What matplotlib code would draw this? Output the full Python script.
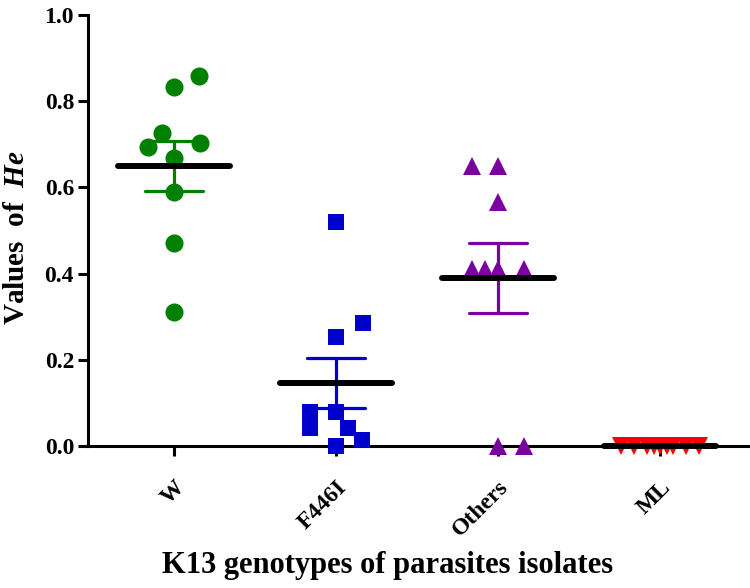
import numpy as np
import matplotlib
matplotlib.use("Agg")
import matplotlib.pyplot as plt

plt.rcParams['font.family'] = ['Liberation Serif', 'DejaVu Serif']
plt.rcParams['font.weight'] = 'bold'
plt.rcParams['mathtext.fontset'] = 'custom'
plt.rcParams['mathtext.rm'] = 'Liberation Serif:bold'
plt.rcParams['mathtext.it'] = 'Liberation Serif:bold:italic'

categories = ["W", "F446I", "Others", "ML"]

w_values = [0.858, 0.833, 0.726, 0.694, 0.703, 0.668, 0.589, 0.471, 0.311]
f446i_values = [0.520, 0.285, 0.253, 0.079, 0.042, 0.079, 0.042, 0.014, 0.0]
others_values = [0.65, 0.65, 0.566, 0.41, 0.41, 0.41, 0.41, 0.0, 0.0]
ml_values = [0.0, 0.0, 0.0, 0.0, 0.0, 0.0, 0.0, 0.0, 0.0]

# horizontal scatter offsets (category units), as laid out in the original
w_offsets = [0.155, 0.0, -0.075, -0.16, 0.16, 0.0, 0.0, 0.0, 0.0]
f446i_offsets = [0.0, 0.165, 0.0, -0.16, -0.16, 0.0, 0.075, 0.16, 0.0]
others_offsets = [-0.16, 0.0, 0.0, -0.16, -0.08, 0.0, 0.16, 0.0, 0.16]
ml_offsets = [-0.24, -0.16, -0.08, -0.04, 0.0, 0.04, 0.08, 0.16, 0.24]

yticks = [0.0, 0.2, 0.4, 0.6, 0.8, 1.0]

series = [
    (w_values, w_offsets, 'o', '#008000', 13),
    (f446i_values, f446i_offsets, 's', '#0000CC', 12),
    (others_values, others_offsets, '^', '#7B00A0', 13),
    (ml_values, ml_offsets, 'v', '#FF0000', 13),
]

fig = plt.figure(figsize=(7.5, 5.88), dpi=100)
ax = fig.add_axes([88/750, 1-446/588, 1-88/750, (446-15)/588])

mean_half = 0.345
cap_half = 0.18
for i, (vals, offs, mk, col, ms) in enumerate(series):
    v = np.array(vals)
    x = i + np.array(offs)
    ax.plot(x, v, linestyle='none', marker=mk, color=col, markersize=ms,
            markeredgewidth=0, zorder=3, clip_on=False)
    m = v.mean()
    sem = v.std(ddof=1) / np.sqrt(len(v))
    if sem > 0:
        ax.plot([i, i], [m - sem, m + sem], color=col, lw=2.3, zorder=4,
                solid_capstyle='round')
        for yy in (m - sem, m + sem):
            ax.plot([i - cap_half, i + cap_half], [yy, yy], color=col, lw=2.3,
                    zorder=4, solid_capstyle='round')
    ax.plot([i - mean_half, i + mean_half], [m, m], color='black', lw=4.3,
            zorder=5, solid_capstyle='round', clip_on=False)

ax.set_xlim(-0.53, 3.555)
ax.set_ylim(0, 1.0)
ax.set_yticks(yticks)
ax.set_yticklabels([f"{t:.1f}" for t in yticks], fontsize=17, fontweight='bold')
ax.set_xticks(range(len(categories)))
ax.set_xticklabels(categories, rotation=45, ha='right', rotation_mode='anchor',
                   fontsize=17, fontweight='bold')
for s in ('top', 'right'):
    ax.spines[s].set_visible(False)
for s in ('left', 'bottom'):
    ax.spines[s].set_linewidth(2.2)
ax.tick_params(axis='both', width=2.2, length=7, direction='out', pad=3)
ax.tick_params(axis='x', pad=15)

fig.text(17/750, 1-238/588, r"Values  of  $He$", rotation=90, ha='center',
         va='center', fontsize=21, fontweight='bold')
fig.text(388/750, 1-573/588, "K13 genotypes of parasites isolates",
         ha='center', va='baseline', fontsize=22, fontweight='bold')

fig.savefig("out.png", dpi=100)
